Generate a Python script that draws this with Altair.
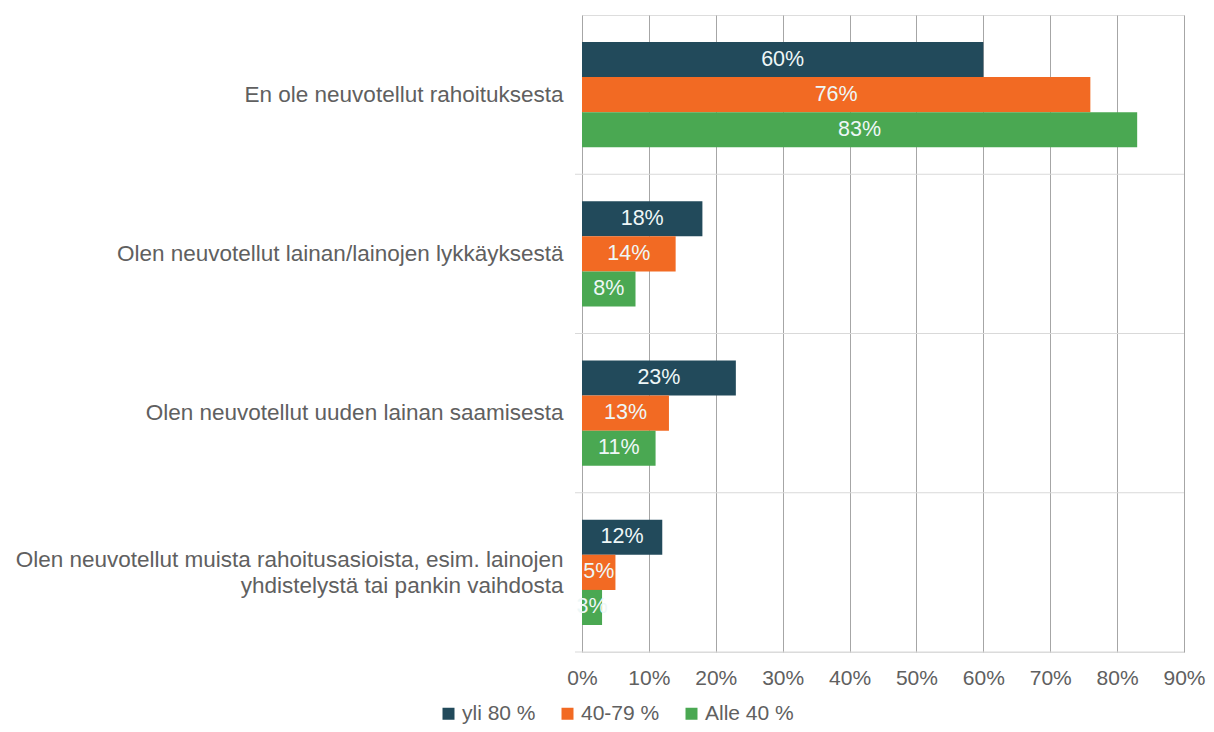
import altair as alt
import pandas as pd

FONT = "Liberation Sans"
GRAY = "#606060"

categories = [
    "En ole neuvotellut rahoituksesta",
    "Olen neuvotellut lainan/lainojen lykkäyksestä",
    "Olen neuvotellut uuden lainan saamisesta",
    "Olen neuvotellut muista rahoitusasioista, esim. lainojen|yhdistelystä tai pankin vaihdosta",
]
series = ["yli 80 %", "40-79 %", "Alle 40 %"]
colors = ["#224a5b", "#f26a23", "#4aa852"]

v_yli80 = [60, 18, 23, 12]
v_40_79 = [76, 14, 13, 5]
v_alle40 = [83, 8, 11, 3]

tick_values = [0, 10, 20, 30, 40, 50, 60, 70, 80, 90]

rows = []
for s, vals in zip(series, [v_yli80, v_40_79, v_alle40]):
    for c, v in zip(categories, vals):
        rows.append({"category": c, "series": s, "value": v})
df = pd.DataFrame(rows)

# pad second line of the two-line label so it is centred under the first
pad = "\u00a0" * 18
label_expr = (
    "indexof(datum.label, '|') >= 0 ? "
    "[split(datum.label, '|')[0], split(datum.label, '|')[1] + '" + pad + "'] : datum.label"
)

y_scale = alt.Scale(domain=categories, paddingInner=0, paddingOuter=0)
x_scale = alt.Scale(domain=[0, 90], nice=False)

y_enc = alt.Y(
    "category:N",
    sort=categories,
    scale=y_scale,
    axis=alt.Axis(
        title=None, domain=False, ticks=False, labelPadding=19,
        labelFontSize=22.5, labelColor=GRAY, labelFont=FONT, labelLimit=700,
        labelExpr=label_expr, labelLineHeight=26,
        labelOffset={"condition": {"test": "indexof(datum.value, '|') >= 0", "value": -12},
                     "value": 0},
    ),
)
x_enc = alt.X(
    "value:Q",
    scale=x_scale,
    axis=alt.Axis(
        title=None, values=tick_values, labelExpr="datum.value + '%'",
        grid=True, gridColor="#a6a6a6", gridWidth=1, domain=False, ticks=False,
        labelPadding=15, labelFontSize=21, labelColor=GRAY, labelFont=FONT,
        labelFlush=False,
    ),
)
yoff = alt.YOffset("series:N", sort=series,
                   scale=alt.Scale(domain=series, paddingInner=0, paddingOuter=0.77))

bars = alt.Chart(df).mark_bar().encode(
    y=y_enc,
    x=x_enc,
    yOffset=yoff,
    color=alt.Color(
        "series:N", sort=series,
        scale=alt.Scale(domain=series, range=colors),
        legend=alt.Legend(
            title=None, orient="none", legendX=-144, legendY=688,
            direction="horizontal", symbolType="square", symbolSize=144,
            symbolStrokeWidth=0, labelFontSize=21, labelColor=GRAY,
            labelFont=FONT, columnPadding=21, labelOffset=3, padding=0,
        ),
    ),
)

labels = alt.Chart(df).transform_calculate(
    mid="datum.value / 2", txt="datum.value + '%'"
).mark_text(font=FONT, fontSize=21.5, color="#eef7f7", align="center", baseline="middle").encode(
    y=alt.Y("category:N", sort=categories, scale=y_scale),
    x=alt.X("mid:Q", scale=x_scale),
    yOffset=yoff,
    text="txt:N",
)

sep_df = pd.DataFrame({"category": categories[1:]})
separators = alt.Chart(sep_df).mark_rule(color="#d9d9d9", strokeWidth=1).encode(
    y=alt.Y("category:N", sort=categories, scale=y_scale, bandPosition=0),
    x=alt.value(-7),
    x2=alt.value(602),
)
bottom_df = pd.DataFrame({"category": categories[-1:]})
bottom = alt.Chart(bottom_df).mark_rule(color="#d9d9d9", strokeWidth=1).encode(
    y=alt.Y("category:N", sort=categories, scale=y_scale, bandPosition=1),
    x=alt.value(-7),
    x2=alt.value(602),
)

chart = alt.layer(separators, bottom, bars, labels).properties(
    width=602,
    height=637,
    autosize=alt.AutoSizeParams(type="none"),
    padding={"left": 574, "top": 7, "right": 22, "bottom": 72},
).configure_view(stroke=None).configure(font=FONT, background="white")

chart.save("out.html", embed_options={"renderer": "svg", "actions": False})
